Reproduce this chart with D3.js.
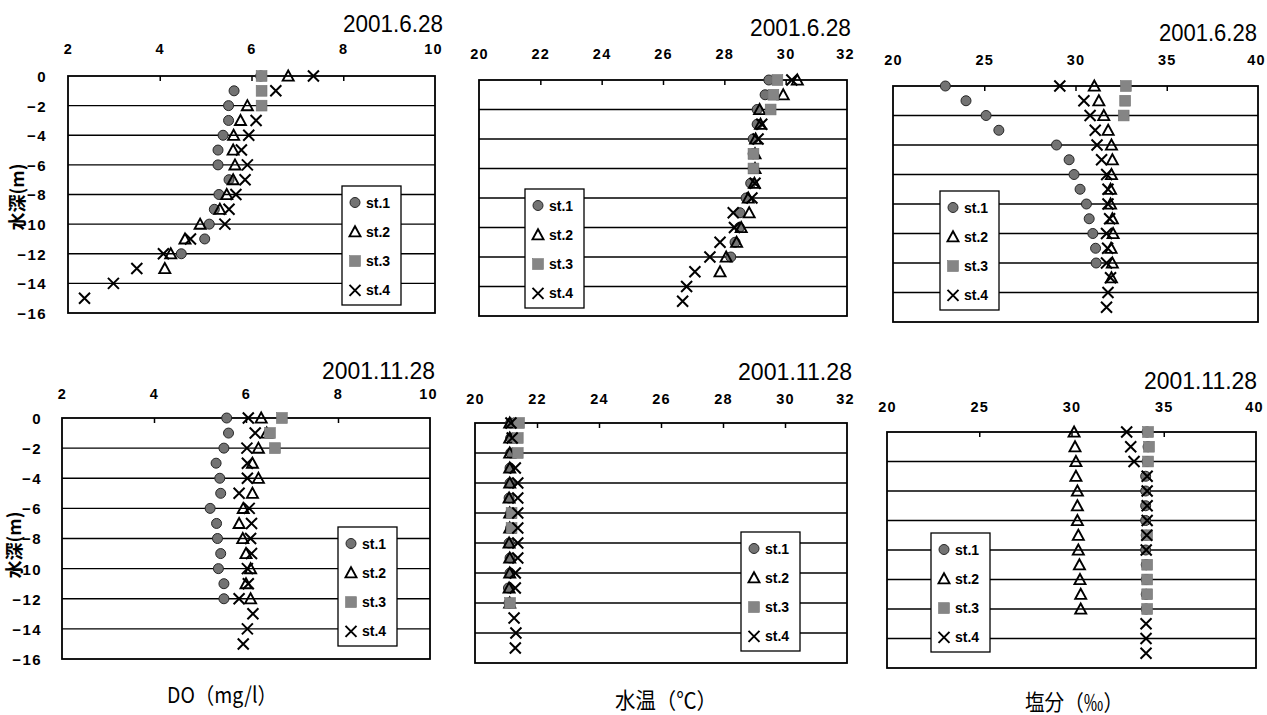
<!DOCTYPE html>
<html><head><meta charset="utf-8">
<script src="https://cdn.jsdelivr.net/npm/d3@7"></script>
<style>body{margin:0;background:#fff}</style>
</head><body>
<svg id="c" width="1267" height="715"></svg>
<script>
// ---------- data ----------
const depths = [0,-1,-2,-3,-4,-5,-6,-7,-8,-9,-10,-11,-12,-13,-14,-15];
const stations = ["st.1","st.2","st.3","st.4"];
const yTicks = [0,-2,-4,-6,-8,-10,-12,-14,-16];
const doTicks = [2,4,6,8,10];
const tempTicks = [20,22,24,26,28,30,32];
const salTicks = [20,25,30,35,40];
const dates = ["2001.6.28","2001.11.28"];
const axisTitles = ["DO（mg/l）","水温（℃）","塩分（‰）"];
const yTitle = "水深(m)";

// DO 2001.6.28
const doJun1 = [6.20,5.62,5.50,5.50,5.38,5.27,5.27,5.51,5.29,5.19,5.08,4.98,4.47,null,null,null];
const doJun2 = [6.80,null,5.91,5.76,5.61,5.60,5.64,5.60,5.46,5.31,4.88,4.55,4.24,4.11,null,null];
const doJun3 = [6.22,6.22,6.22,null,null,null,null,null,null,null,null,null,null,null,null,null];
const doJun4 = [7.35,6.53,null,6.10,5.94,5.78,5.91,5.86,5.66,5.51,5.42,4.67,4.08,3.50,2.99,2.36];
// 水温 2001.6.28
const tJun1 = [29.45,29.33,29.07,29.07,28.94,28.94,28.94,28.86,28.71,28.51,28.49,28.35,28.21,null,null,null];
const tJun2 = [30.38,29.92,29.15,29.18,29.02,29.0,29.0,28.98,28.78,28.81,28.55,28.40,28.06,27.86,null,null];
const tJun3 = [29.73,29.60,29.51,null,null,28.95,28.95,null,null,null,null,null,null,null,null,null];
const tJun4 = [30.20,null,null,29.22,29.10,null,null,29.0,28.90,28.29,28.33,27.86,27.53,27.04,26.77,26.64];
// 塩分 2001.6.28
const sJun1 = [22.87,24.0,25.10,25.80,28.96,29.65,29.92,30.25,30.60,30.75,30.95,31.10,31.13,null,null,null];
const sJun2 = [31.03,31.28,31.55,31.79,31.97,32.02,31.97,31.92,31.92,32.02,32.06,31.95,32.02,31.97,null,null];
const sJun3 = [32.76,32.72,32.64,null,null,null,null,null,null,null,null,null,null,null,null,null];
const sJun4 = [29.14,30.46,30.80,31.08,31.18,31.43,31.71,31.78,31.78,31.87,31.70,31.76,31.70,31.92,31.78,31.70];
// DO 2001.11.28
const doNov1 = [5.58,5.62,5.52,5.35,5.43,5.45,5.22,5.36,5.38,5.45,5.40,5.52,5.52,null,null,null];
const doNov2 = [6.33,6.45,6.27,6.14,6.27,6.14,5.94,5.85,5.93,6.00,6.10,6.00,6.10,null,null,null];
const doNov3 = [6.78,6.52,6.63,null,null,null,null,null,null,null,null,null,null,null,null,null];
const doNov4 = [6.05,6.20,6.02,6.03,6.03,5.85,6.07,6.12,6.10,6.12,6.03,6.05,5.85,6.15,6.03,5.94];
// 水温 2001.11.28
const tNov1 = [21.15,21.15,21.15,21.13,21.13,21.10,21.15,21.15,21.10,21.13,21.13,21.08,21.10,null,null,null];
const tNov2 = [21.12,21.12,21.12,21.12,21.12,21.10,21.12,21.12,21.10,21.12,21.12,21.10,21.12,null,null,null];
const tNov3 = [21.42,21.38,21.38,null,null,null,21.18,21.18,null,null,null,null,21.13,null,null,null];
const tNov4 = [21.16,21.20,null,21.30,21.38,21.38,21.38,21.38,21.38,21.38,21.30,21.30,null,21.26,21.32,21.30];
// 塩分 2001.11.28
const sNov1 = [34.10,34.15,34.10,34.02,34.02,34.02,34.02,34.05,34.02,34.05,34.05,34.05,34.05,null,null,null];
const sNov2 = [30.14,30.19,30.24,30.24,30.32,30.32,30.32,30.37,30.37,30.43,30.46,30.50,30.50,null,null,null];
const sNov3 = [34.15,34.20,34.15,null,null,null,null,34.10,null,34.10,34.10,34.10,34.10,null,null,null];
const sNov4 = [32.99,33.21,33.39,34.10,34.10,34.10,34.10,34.08,34.05,null,null,null,null,34.04,34.04,34.04];

// ---------- layout ----------
const panels = [
 {L:68, R:435, T:76, B:313, dom:[2,10], ticks:doTicks, series:[doJun1,doJun2,doJun3,doJun4], title:dates[0], tX:443, tY:32, tW:100, tickY:54, leg:[342,186], yl:{x:47, tx:18, ty:197}},
 {L:479, R:847, T:80, B:316, dom:[20,32], ticks:tempTicks, series:[tJun1,tJun2,tJun3,tJun4], title:dates[0], tX:851, tY:36, tW:101, tickY:59, leg:[525,189]},
 {L:893, R:1258, T:86, B:322, dom:[20,40], ticks:salTicks, series:[sJun1,sJun2,sJun3,sJun4], title:dates[0], tX:1257, tY:41, tW:98, tickY:65, leg:[940,191]},
 {L:62, R:430, T:418, B:659, dom:[2,10], ticks:doTicks, series:[doNov1,doNov2,doNov3,doNov4], title:dates[1], tX:435, tY:379, tW:113, tickY:399, leg:[338,527], yl:{x:42, tx:15, ty:545}, xt:{x:222, y:703, w:110, text:axisTitles[0]}},
 {L:475, R:847, T:423, B:663, dom:[20,32], ticks:tempTicks, series:[tNov1,tNov2,tNov3,tNov4], title:dates[1], tX:852, tY:380, tW:114, tickY:404, leg:[741,532], xt:{x:666, y:708, w:102, text:axisTitles[1]}},
 {L:887, R:1256, T:432, B:668, dom:[20,40], ticks:salTicks, series:[sNov1,sNov2,sNov3,sNov4], title:dates[1], tX:1257, tY:389, tW:113, tickY:412, leg:[931,533], xt:{x:1074, y:710, w:98, text:axisTitles[2]}}
];

const svg = d3.select("#c");
const tickFont = "'Liberation Sans', Arial, sans-serif";
const jpFont = "'Noto Sans CJK JP', sans-serif";

function drawMarker(g, k, x, y) {
  if (k === 0) {
    g.append("circle").attr("cx", x).attr("cy", y).attr("r", 5)
      .attr("fill", "#737373").attr("stroke", "#262626").attr("stroke-width", 1);
  } else if (k === 1) {
    g.append("path").attr("d", `M${x},${y-5.5}L${x+5.5},${y+4.6}L${x-5.5},${y+4.6}Z`)
      .attr("fill", "none").attr("stroke", "#000").attr("stroke-width", 1.9).attr("stroke-linejoin", "miter");
  } else if (k === 2) {
    g.append("rect").attr("x", x-5.4).attr("y", y-5.4).attr("width", 10.8).attr("height", 10.8)
      .attr("fill", "#858585").attr("stroke", "#737373").attr("stroke-width", 0.6);
  } else {
    g.append("path").attr("d", `M${x-5.5},${y-5.5}L${x+5.5},${y+5.5}M${x+5.5},${y-5.5}L${x-5.5},${y+5.5}`)
      .attr("stroke", "#000").attr("stroke-width", 2).attr("fill", "none");
  }
}

panels.forEach(p => {
  const x = d3.scaleLinear().domain(p.dom).range([p.L, p.R]);
  const y = d3.scaleLinear().domain([0, -16]).range([p.T, p.B]);
  const g = svg.append("g");

  // gridlines
  g.selectAll(".grid").data(yTicks.filter(t => t !== 0 && t !== -16)).enter()
    .append("line").attr("x1", p.L).attr("x2", p.R)
    .attr("y1", d => y(d)).attr("y2", d => y(d))
    .attr("stroke", "#000").attr("stroke-width", 1.3);

  // frame
  g.append("rect").attr("x", p.L).attr("y", p.T).attr("width", p.R - p.L).attr("height", p.B - p.T)
    .attr("fill", "none").attr("stroke", "#000").attr("stroke-width", 1.8);

  // top axis via d3.axisTop (ticks drawn inward)
  const ax = d3.axisTop(x).tickValues(p.ticks).tickSizeInner(-5).tickSizeOuter(0).tickFormat(d3.format("d"));
  const axG = g.append("g").attr("transform", `translate(0,${p.T})`).call(ax);
  axG.select(".domain").remove();
  axG.selectAll(".tick line").attr("stroke", "#000").attr("stroke-width", 1.5)
    .attr("opacity", (d, i) => (i === 0 || i === p.ticks.length - 1) ? 0 : 1);
  axG.selectAll(".tick text").attr("y", 0).attr("dy", 0)
    .attr("transform", (d, i) => `translate(${i === p.ticks.length - 1 ? -2 : 0},${p.tickY - p.T})`)
    .attr("font-family", tickFont).attr("font-weight", "bold").attr("font-size", 14.5)
    .attr("letter-spacing", "1.3px").attr("fill", "#000");

  // y labels
  if (p.yl) {
    const ay = d3.axisLeft(y).tickValues(yTicks).tickSize(0).tickFormat(d => d === 0 ? "0" : "\u2212" + Math.abs(d));
    const ayG = g.append("g").attr("transform", `translate(${p.yl.x},0)`).call(ay);
    ayG.select(".domain").remove();
    ayG.selectAll(".tick text").attr("x", 0).attr("dx", 0).attr("dy", "0.36em")
      .attr("font-family", tickFont).attr("font-weight", "bold").attr("font-size", 15)
      .attr("letter-spacing", "1.4px").attr("fill", "#000").attr("text-anchor", "end");
    g.append("text").attr("transform", `translate(${p.yl.tx},${p.yl.ty}) rotate(-90)`)
      .attr("text-anchor", "middle").attr("dy", "0.35em")
      .attr("font-family", jpFont).attr("font-weight", "bold").attr("font-size", 18)
      .text(yTitle);
  }

  // title
  g.append("text").attr("x", p.tX).attr("y", p.tY).attr("text-anchor", "end")
    .attr("font-family", tickFont).attr("font-size", 23)
    .attr("textLength", p.tW).attr("lengthAdjust", "spacingAndGlyphs").text(p.title);

  // x axis title
  if (p.xt) {
    g.append("text").attr("x", p.xt.x - p.xt.w / 2).attr("y", p.xt.y)
      .attr("font-family", jpFont).attr("font-size", 22)
      .attr("textLength", p.xt.w).attr("lengthAdjust", "spacingAndGlyphs").text(p.xt.text);
  }

  // markers
  const mg = g.append("g");
  p.series.forEach((vals, k) => {
    vals.forEach((v, i) => {
      if (v === null) return;
      drawMarker(mg, k, x(v), y(depths[i]));
    });
  });

  // legend
  const lg = g.append("g").attr("transform", `translate(${p.leg[0]},${p.leg[1]})`);
  lg.append("rect").attr("width", 59).attr("height", 119).attr("fill", "#fff")
    .attr("stroke", "#000").attr("stroke-width", 1.3);
  stations.forEach((s, k) => {
    const yy = 16.5 + k * 29.3;
    drawMarker(lg, k, 13, yy);
    lg.append("text").attr("x", 24).attr("y", yy).attr("dy", "0.36em")
      .attr("font-family", tickFont).attr("font-weight", "bold").attr("font-size", 14).text(s);
  });
});
</script>
</body></html>
